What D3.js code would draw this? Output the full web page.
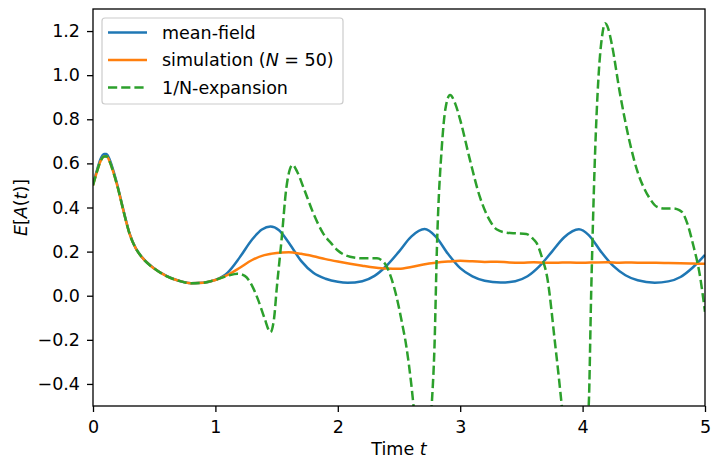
<!DOCTYPE html>
<html>
<head>
<meta charset="utf-8">
<script src="https://cdn.jsdelivr.net/npm/d3@7"></script>
<style>
  html, body { margin: 0; padding: 0; background: #fff; }
  svg { display: block; font-family: "DejaVu Sans", sans-serif; }
</style>
</head>
<body>
<svg id="chart" width="711" height="458"></svg>
<script>
// Mean-field curve
const mfT = [0, 0.03, 0.06, 0.09, 0.11, 0.14, 0.17, 0.2, 0.25, 0.3, 0.35, 0.4, 0.5, 0.6, 0.7, 0.8, 0.9, 1.0,
  1.1, 1.2, 1.3, 1.38, 1.45, 1.52, 1.6, 1.7, 1.8, 1.9, 2.0, 2.08,
  2.2, 2.3, 2.4, 2.5, 2.6, 2.71, 2.8, 2.9, 3.0, 3.1, 3.2, 3.33,
  3.45, 3.55, 3.65, 3.75, 3.85, 3.97, 4.05, 4.15, 4.25, 4.35, 4.45, 4.59,
  4.7, 4.8, 4.9, 5.0];
const mfV = [0.505, 0.565, 0.618, 0.643, 0.643, 0.612, 0.56, 0.5, 0.385, 0.28, 0.215, 0.175, 0.124, 0.09, 0.068, 0.057, 0.059, 0.072,
  0.105, 0.175, 0.255, 0.3, 0.314, 0.297, 0.24, 0.158, 0.104, 0.077, 0.063, 0.059,
  0.066, 0.09, 0.137, 0.2, 0.268, 0.302, 0.268, 0.19, 0.125, 0.088, 0.068, 0.06,
  0.066, 0.088, 0.135, 0.2, 0.265, 0.301, 0.275, 0.2, 0.135, 0.093, 0.07, 0.059,
  0.065, 0.085, 0.128, 0.185];

// Simulation, N = 50
const simT = [0, 0.03, 0.06, 0.09, 0.11, 0.14, 0.17, 0.2, 0.25, 0.3, 0.35, 0.4, 0.5, 0.6, 0.7, 0.8, 0.9, 1.0,
  1.1, 1.2, 1.3, 1.4, 1.5, 1.6, 1.7, 1.8, 1.9, 2.0, 2.1, 2.2, 2.3, 2.4, 2.5, 2.6, 2.7, 2.8, 2.9,
  3.0, 3.1, 3.2, 3.3, 3.4, 3.5, 3.6, 3.7, 3.8, 3.9, 4.0, 4.1, 4.2, 4.3, 4.4, 4.5, 4.6, 4.7, 4.8, 4.9, 5.0];
const simV = [0.5, 0.558, 0.608, 0.631, 0.632, 0.603, 0.553, 0.495, 0.382, 0.278, 0.214, 0.174, 0.123, 0.089, 0.068, 0.057, 0.059, 0.071,
  0.094, 0.127, 0.162, 0.184, 0.194, 0.197, 0.19, 0.179, 0.166, 0.155, 0.145, 0.136, 0.128, 0.123, 0.122, 0.13, 0.142, 0.15, 0.155,
  0.158, 0.156, 0.153, 0.154, 0.151, 0.15, 0.152, 0.149, 0.15, 0.151, 0.149, 0.151, 0.152, 0.15, 0.151, 0.149, 0.149, 0.148, 0.147, 0.146, 0.145];

// 1/N-expansion
const expT = [0, 0.03, 0.06, 0.09, 0.11, 0.14, 0.17, 0.2, 0.25, 0.3, 0.35, 0.4, 0.5, 0.6, 0.7, 0.8, 0.9, 1.0,
  1.1, 1.18, 1.24, 1.3, 1.35, 1.4, 1.45, 1.48, 1.5, 1.54, 1.58, 1.63, 1.67, 1.72, 1.8, 1.88, 1.95, 2.0, 2.1, 2.2, 2.32,
  2.36, 2.4, 2.44, 2.48, 2.52, 2.56, 2.6, 2.64, 2.69, 2.74, 2.767, 2.79, 2.81, 2.85, 2.88, 2.917, 2.96, 3.0, 3.08, 3.16, 3.24,
  3.3, 3.38, 3.46, 3.54, 3.6, 3.625, 3.67, 3.71, 3.775, 3.83, 3.88, 3.94, 4.0, 4.05, 4.07, 4.1, 4.13, 4.16, 4.183, 4.21, 4.237,
  4.305, 4.387, 4.45, 4.5, 4.55, 4.605, 4.67, 4.74, 4.79, 4.82, 4.86, 4.9, 4.96, 5.0];
const expV = [0.5, 0.558, 0.608, 0.631, 0.632, 0.603, 0.553, 0.495, 0.382, 0.278, 0.214, 0.174, 0.123, 0.089, 0.068, 0.057, 0.059, 0.072,
  0.09, 0.1, 0.09, 0.045, -0.02, -0.1, -0.165, -0.1, 0.026, 0.25, 0.49, 0.593, 0.56, 0.49, 0.374, 0.283, 0.235, 0.205, 0.177, 0.17, 0.17,
  0.16, 0.132, 0.075, -0.005, -0.11, -0.23, -0.4, -0.62, -0.9, -0.75, -0.5, -0.23, 0.22, 0.676, 0.85, 0.91, 0.87, 0.797, 0.615, 0.449, 0.343,
  0.3, 0.286, 0.283, 0.28, 0.255, 0.238, 0.17, 0.086, -0.216, -0.5, -0.8, -1.0, -0.8, -0.5, 0.01, 0.615, 0.993, 1.18, 1.235, 1.21, 1.145,
  0.918, 0.691, 0.56, 0.49, 0.44, 0.404, 0.395, 0.396, 0.388, 0.374, 0.32, 0.238, 0.086, -0.073];

const xTicks = [0, 1, 2, 3, 4, 5];
const yTicks = [-0.4, -0.2, 0.0, 0.2, 0.4, 0.6, 0.8, 1.0, 1.2];

const series = [
  { name: "mean-field", t: mfT, v: mfV, color: "#1f77b4", dash: null },
  { name: "simulation", t: simT, v: simV, color: "#ff7f0e", dash: null },
  { name: "1/N-expansion", t: expT, v: expV, color: "#2ca02c", dash: "9.2,4" }
];

const FS = "17.5px";
const margin = { left: 93, right: 6, top: 9, bottom: 52 };
const width = 711, height = 458;
const svg = d3.select("#chart");

const x = d3.scaleLinear().domain([0, 5]).range([margin.left, width - margin.right]);
const y = d3.scaleLinear().domain([-0.5, 1.3]).range([height - margin.bottom, margin.top]);

svg.append("defs").append("clipPath").attr("id", "clip")
  .append("rect")
  .attr("x", x(0)).attr("y", y(1.3))
  .attr("width", x(5) - x(0)).attr("height", y(-0.5) - y(1.3));

// lines
const line = d3.line()
  .x((d) => x(d[0]))
  .y((d) => y(d[1]))
  .curve(d3.curveMonotoneX);

const plot = svg.append("g").attr("clip-path", "url(#clip)");
series.forEach((s) => {
  plot.append("path")
    .datum(s.t.map((t, i) => [t, s.v[i]]))
    .attr("d", line)
    .attr("fill", "none")
    .attr("stroke", s.color)
    .attr("stroke-width", 2.5)
    .attr("stroke-dasharray", s.dash)
    .attr("stroke-linejoin", "round");
});

// axes
const xAxis = svg.append("g")
  .attr("transform", `translate(0,${y(-0.5)})`)
  .call(d3.axisBottom(x).tickValues(xTicks).tickFormat(d3.format("d")).tickSize(6).tickPadding(9));
const yAxis = svg.append("g")
  .attr("transform", `translate(${x(0)},0)`)
  .call(d3.axisLeft(y).tickValues(yTicks).tickFormat(d3.format(".1f")).tickSize(6).tickPadding(7));

[xAxis, yAxis].forEach((g) => {
  g.select(".domain").remove();
  g.selectAll(".tick line").attr("stroke", "#000").attr("stroke-width", 1.3);
  g.selectAll(".tick text").attr("fill", "#000").style("font-size", FS).style("font-family", "DejaVu Sans");
});

// frame
svg.append("rect")
  .attr("x", x(0)).attr("y", y(1.3))
  .attr("width", x(5) - x(0)).attr("height", y(-0.5) - y(1.3))
  .attr("fill", "none").attr("stroke", "#000").attr("stroke-width", 1.3);

// axis labels
const xl = svg.append("text")
  .attr("x", (x(0) + x(5)) / 2).attr("y", 455)
  .attr("text-anchor", "middle").style("font-size", FS);
xl.append("tspan").text("Time ");
xl.append("tspan").attr("font-style", "italic").text("t");

const yl = svg.append("text")
  .attr("transform", `translate(27,${(y(-0.5) + y(1.3)) / 2}) rotate(-90)`)
  .attr("text-anchor", "middle").style("font-size", FS);
yl.append("tspan").attr("font-style", "italic").text("E");
yl.append("tspan").text("[");
yl.append("tspan").attr("font-style", "italic").text("A");
yl.append("tspan").text("(");
yl.append("tspan").attr("font-style", "italic").text("t");
yl.append("tspan").text(")]");

// legend
const legend = svg.append("g");
legend.append("rect")
  .attr("x", 102).attr("y", 18).attr("width", 241).attr("height", 86)
  .attr("rx", 3).attr("fill", "#fff").attr("fill-opacity", 0.8)
  .attr("stroke", "#ccc").attr("stroke-width", 1.2);

const rows = [32.5, 60, 87.5];
series.forEach((s, i) => {
  legend.append("line")
    .attr("x1", 108).attr("x2", 147)
    .attr("y1", rows[i]).attr("y2", rows[i])
    .attr("stroke", s.color).attr("stroke-width", 2.5)
    .attr("stroke-dasharray", s.dash);
  const txt = legend.append("text")
    .attr("x", 162).attr("y", rows[i] + 6.3)
    .style("font-size", FS);
  if (s.name === "simulation") {
    txt.append("tspan").text("simulation (");
    txt.append("tspan").attr("font-style", "italic").text("N");
    txt.append("tspan").text(" = 50)");
  } else {
    txt.text(s.name);
  }
});
</script>
</body>
</html>
